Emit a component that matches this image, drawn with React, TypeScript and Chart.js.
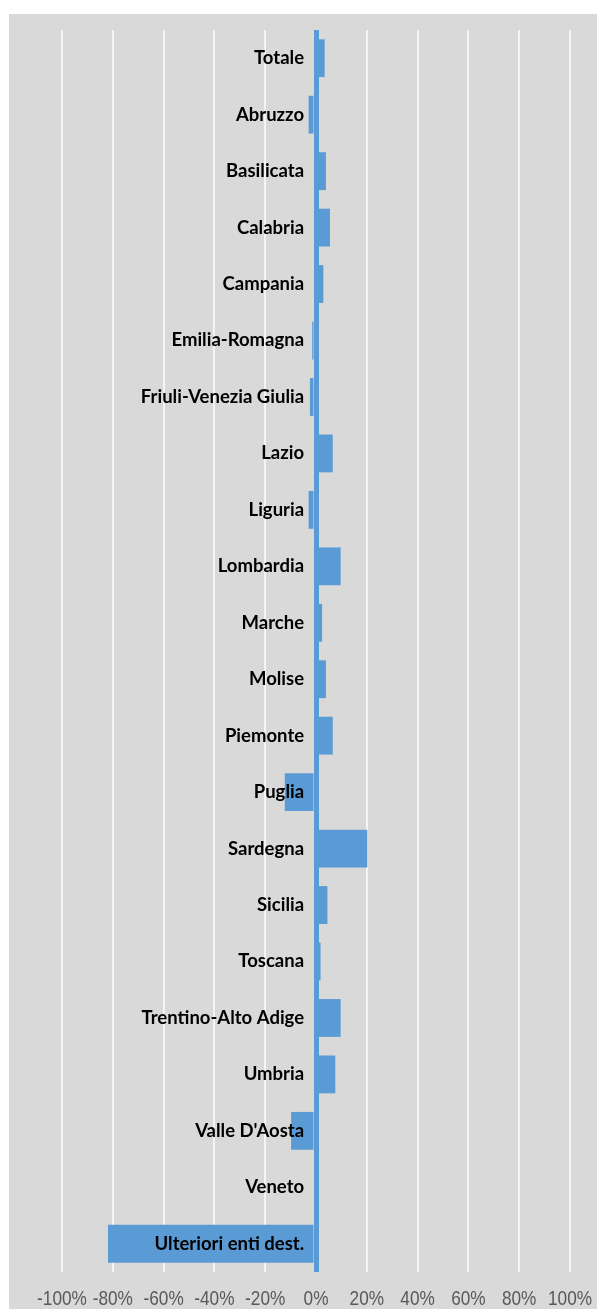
import React, { useEffect, useRef } from "react";
import { Chart, registerables } from "chart.js";

Chart.register(...registerables);

const categories = [
  "Totale",
  "Abruzzo",
  "Basilicata",
  "Calabria",
  "Campania",
  "Emilia-Romagna",
  "Friuli-Venezia Giulia",
  "Lazio",
  "Liguria",
  "Lombardia",
  "Marche",
  "Molise",
  "Piemonte",
  "Puglia",
  "Sardegna",
  "Sicilia",
  "Toscana",
  "Trentino-Alto Adige",
  "Umbria",
  "Valle D'Aosta",
  "Veneto",
  "Ulteriori enti dest.",
];

const values = [
  3.4, -2.9, 3.9, 5.5, 2.9, -1.5, -2.4, 6.6, -2.9, 9.7, 2.4, 3.9, 6.6, -12.3,
  20.2, 4.5, 1.8, 9.7, 7.6, -9.8, 0, -81.9,
];

const xMin = -100;
const xMax = 100;
const xStep = 20;

// draws the x tick labels in a narrow face (Arial Narrow look)
const narrowXLabels = {
  id: "narrowXLabels",
  afterDraw(chart: any) {
    const scale = chart.scales.x;
    const ctx = chart.ctx as CanvasRenderingContext2D;
    ctx.save();
    ctx.fillStyle = "#595959";
    ctx.font = "21px 'Liberation Sans', Arial, sans-serif";
    ctx.textAlign = "center";
    ctx.textBaseline = "middle";
    const y = chart.chartArea.bottom + 27;
    scale.ticks.forEach((t: any, i: number) => {
      const x = scale.getPixelForTick(i);
      ctx.save();
      ctx.translate(x, y);
      ctx.scale(0.82, 1);
      ctx.fillText(`${t.value}%`, 0, 0);
      ctx.restore();
    });
    ctx.restore();
  },
};

export default function App() {
  const canvasRef = useRef<HTMLCanvasElement | null>(null);

  useEffect(() => {
    if (!canvasRef.current) return;
    const chart = new Chart(canvasRef.current, {
      type: "bar",
      data: {
        labels: categories,
        datasets: [
          {
            data: values,
            backgroundColor: "#5b9bd5",
            borderWidth: 0,
            barPercentage: 0.67,
            categoryPercentage: 1,
          },
        ],
      },
      plugins: [narrowXLabels],
      options: {
        indexAxis: "y",
        animation: false,
        responsive: true,
        maintainAspectRatio: false,
        layout: { padding: { left: 53, right: 27, top: 16, bottom: 40 } },
        plugins: {
          legend: { display: false },
          tooltip: { enabled: false },
        },
        scales: {
          x: {
            min: xMin,
            max: xMax,
            ticks: {
              stepSize: xStep,
              display: false,
            },
            grid: {
              color: (c: any) => (c.tick && c.tick.value === 0 ? "#5b9bd5" : "#f4f4f4"),
              lineWidth: (c: any) => (c.tick && c.tick.value === 0 ? 5 : 2),
              drawTicks: false,
            },
            border: { display: false },
          },
          y: {
            position: { x: -4.7 } as any,
            grid: { display: false, drawTicks: false, lineWidth: 0 },
            border: { display: false },
            ticks: {
              z: 1,
              padding: 0,
              color: "#000000",
              autoSkip: false,
              font: { family: "Lato, 'Noto Sans', sans-serif", size: 18.5, weight: "bold" },
            },
          },
        },
      },
    });
    return () => chart.destroy();
  }, []);

  return (
    <div
      style={{
        position: "fixed",
        left: 9,
        top: 14,
        width: 588,
        height: 1298,
        background: "#d9d9d9",
      }}
    >
      <canvas ref={canvasRef} />
    </div>
  );
}
